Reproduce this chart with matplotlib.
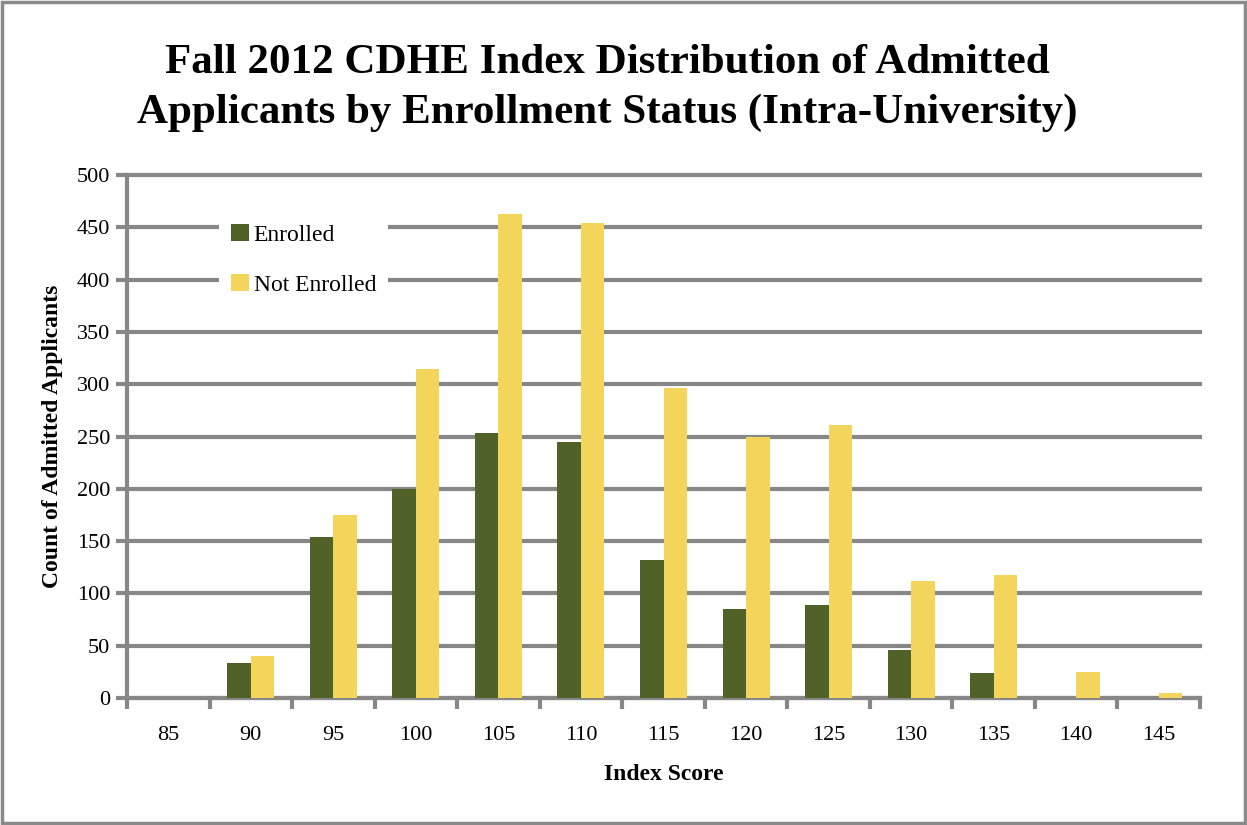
import numpy as np
import matplotlib.pyplot as plt
from matplotlib.patches import Rectangle

# Data
scores = ['85', '90', '95', '100', '105', '110', '115', '120', '125', '130', '135', '140', '145']
enrolled = [0, 33, 154, 200, 253, 245, 132, 85, 89, 46, 24, 0, 0]
not_enrolled = [0, 40, 175, 315, 463, 454, 296, 250, 261, 112, 118, 25, 5]

green = '#506228'
yellow = '#f4d55b'
grid_gray = '#878787'

plt.rcParams['font.family'] = ['Liberation Serif', 'DejaVu Serif']

fig = plt.figure(figsize=(12.47, 8.25), dpi=100)
ax = fig.add_axes([127 / 1247, 1 - 698 / 825, (1200 - 127) / 1247, (698 - 175) / 825])

x = np.arange(len(scores))
w = 0.285
ax.bar(x - w / 2, enrolled, w, color=green, label='Enrolled', zorder=3)
ax.bar(x + w / 2, not_enrolled, w, color=yellow, label='Not Enrolled', zorder=3)

ax.set_xlim(-0.5, len(scores) - 0.5)
ax.set_ylim(0, 500)
ax.set_yticks(range(0, 501, 50))
ax.yaxis.grid(True, color=grid_gray, linewidth=3, zorder=0)
ax.set_axisbelow(True)
for gl in ax.get_ygridlines():
    gl.set_clip_on(False)

# category labels in the middle, ticks on the boundaries
ax.set_xticks(x)
ax.set_xticklabels(scores, fontsize=16)
ax.set_xticks(np.arange(-0.5, len(scores)), minor=True)
ax.tick_params(axis='x', which='major', length=0, pad=20)
ax.tick_params(axis='x', which='minor', length=8, width=3, color=grid_gray)
ax.tick_params(axis='y', length=8, width=3, color=grid_gray, labelsize=16, pad=4)

for s in ['top', 'right']:
    ax.spines[s].set_visible(False)
for s in ['left', 'bottom']:
    ax.spines[s].set_color(grid_gray)
    ax.spines[s].set_linewidth(3)

ax.set_xlabel('Index Score', fontsize=17, fontweight='bold', labelpad=14)
ax.set_ylabel('Count of Admitted Applicants', fontsize=17, fontweight='bold', labelpad=10)

leg = ax.legend(loc='upper left', bbox_to_anchor=(0.075, 0.952), frameon=True, fontsize=17,
                handlelength=0.75, handleheight=0.75, handletextpad=0.2, labelspacing=1.2,
                borderpad=0.5, framealpha=1, fancybox=False)
leg.get_frame().set_facecolor('white')
leg.get_frame().set_linewidth(0)
leg.set_zorder(4)

fig.text(0.487, 0.947, 'Fall 2012 CDHE Index Distribution of Admitted\nApplicants by Enrollment Status (Intra-University)',
         ha='center', va='top', fontsize=31, fontweight='bold', linespacing=1.4)

# outer frame around the chart
fig.patches.append(Rectangle((0.002, 0.003), 0.996, 0.994, transform=fig.transFigure,
                             fill=False, edgecolor='#8a8a8a', linewidth=2.5))

fig.savefig('out.png', dpi=100)
